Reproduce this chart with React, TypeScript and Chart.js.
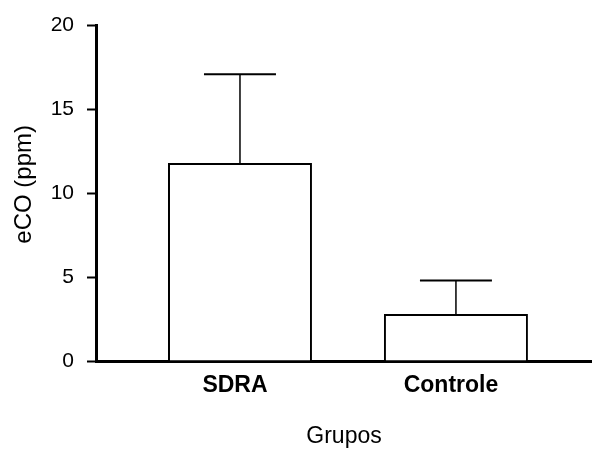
import React, { useEffect, useRef } from "react";
import { Chart, registerables } from "chart.js";

Chart.register(...registerables);

const categories = ["SDRA", "Controle"];
const means = [11.8, 2.8];
const errors = [5.3, 2.0];
const yTicks = [0, 5, 10, 15, 20];
const yTitle = "eCO (ppm)";
const xTitle = "Grupos";

const FONT = "'Liberation Sans', Arial, Helvetica, sans-serif";

const errorBarPlugin = {
  id: "errorBars",
  afterDatasetsDraw(chart: any) {
    const { ctx } = chart;
    const yScale = chart.scales.y;
    const meta = chart.getDatasetMeta(0);
    ctx.save();
    ctx.strokeStyle = "#000";
    meta.data.forEach((bar: any, i: number) => {
      const x = bar.x;
      const yBar = yScale.getPixelForValue(means[i]);
      const yTop = yScale.getPixelForValue(means[i] + errors[i]);
      const half = bar.width / 4;
      ctx.lineWidth = 1.5;
      ctx.beginPath();
      ctx.moveTo(x, yBar);
      ctx.lineTo(x, yTop);
      ctx.stroke();
      ctx.lineWidth = 2;
      ctx.beginPath();
      ctx.moveTo(x - half, yTop);
      ctx.lineTo(x + half, yTop);
      ctx.stroke();
    });
    ctx.restore();
  },
};

const yTitlePlugin = {
  id: "yTitleCustom",
  afterDraw(chart: any) {
    const { ctx, chartArea } = chart;
    ctx.save();
    ctx.fillStyle = "#000";
    ctx.font = `24px ${FONT}`;
    ctx.textAlign = "center";
    ctx.textBaseline = "middle";
    ctx.translate(24, (chartArea.top + chartArea.bottom) / 2 - 9);
    ctx.rotate(-Math.PI / 2);
    ctx.fillText(yTitle, 0, 0);
    ctx.restore();
  },
};

export default function App() {
  const ref = useRef<HTMLCanvasElement>(null);

  useEffect(() => {
    document.body.style.margin = "0";
    document.body.style.overflow = "hidden";
    const canvas = ref.current;
    if (!canvas) return;
    const chart = new Chart(canvas, {
      type: "bar",
      data: {
        datasets: [
          {
            data: categories.map((_, i) => ({ x: i, y: means[i] })),
            backgroundColor: "#ffffff",
            borderColor: "#000000",
            borderWidth: 2,
            categoryPercentage: 1,
            barPercentage: 2 / 3,
          },
        ],
      },
      options: {
        responsive: false,
        animation: false,
        layout: { padding: { top: 25, right: 0, left: 0, bottom: 0 } },
        plugins: {
          legend: { display: false },
          tooltip: { enabled: false },
        },
        scales: {
          x: {
            type: "linear",
            offset: false,
            bounds: "data",
            min: -2 / 3,
            max: 1.63,
            afterFit: (s: any) => {
              s.height = 89;
            },
            afterBuildTicks: (s: any) => {
              s.ticks = categories.map((_, i) => ({ value: i }));
            },
            grid: { display: false, drawTicks: false, offset: false },
            border: { display: true, color: "#000", width: 3 },
            ticks: {
              autoSkip: false,
              maxRotation: 0,
              padding: 11,
              labelOffset: -5,
              color: "#000",
              font: { family: FONT, size: 23, weight: "bold" },
              callback: (v: any) => categories[v as number] ?? "",
            },
            title: {
              display: true,
              text: xTitle,
              color: "#000",
              font: { family: FONT, size: 23 },
              padding: { top: 0, bottom: 0 },
            },
          },
          y: {
            min: 0,
            max: 20,
            afterFit: (s: any) => {
              s.width = 96;
            },
            afterBuildTicks: (s: any) => {
              s.ticks = yTicks.map((v) => ({ value: v }));
            },
            grid: {
              drawOnChartArea: false,
              drawTicks: true,
              tickLength: 9,
              tickColor: "#000",
              tickWidth: 2,
            },
            border: { display: true, color: "#000", width: 3 },
            ticks: {
              padding: 13,
              color: "#000",
              font: { family: FONT, size: 21 },
            },
            title: { display: false },
          },
        },
      },
      plugins: [errorBarPlugin, yTitlePlugin],
    } as any);
    return () => chart.destroy();
  }, []);

  return (
    <div style={{ width: 592, height: 450 }}>
      <canvas ref={ref} width={592} height={450} />
    </div>
  );
}
